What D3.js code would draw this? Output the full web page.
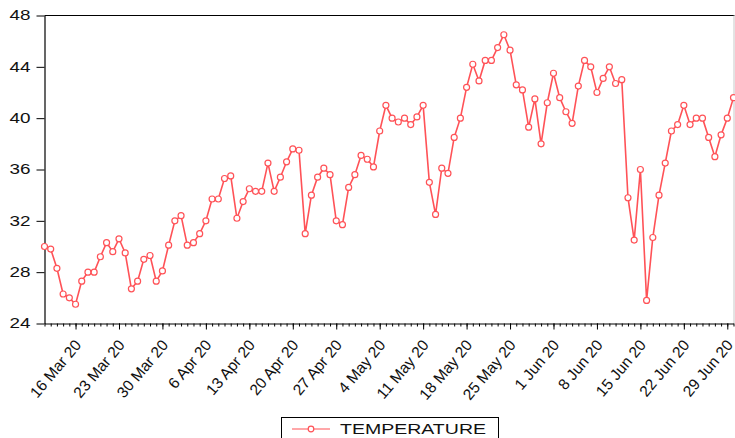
<!DOCTYPE html>
<html>
<head>
<meta charset="utf-8">
<script src="https://cdn.jsdelivr.net/npm/d3@7"></script>
<style>
  body { margin: 0; background: #fff; }
  svg { display: block; font-family: "Liberation Sans", Arial, sans-serif; }
</style>
</head>
<body>
<div id="chart"></div>
<script>
// daily series, 11 Mar 2020 .. 30 Jun 2020
const startDate = new Date(2020, 2, 11);
const endDate = new Date(2020, 5, 30);

const temperature = [
  30.0, 29.8, 28.3, 26.3, 26.0, 25.5, 27.3, 28.0, 28.0, 29.2,
  30.3, 29.6, 30.6, 29.5, 26.7, 27.3, 29.0, 29.3, 27.3, 28.1,
  30.1, 32.0, 32.4, 30.1, 30.3, 31.0, 32.0, 33.7, 33.7, 35.3,
  35.5, 32.2, 33.5, 34.5, 34.3, 34.3, 36.5, 34.3, 35.4, 36.6,
  37.6, 37.5, 31.0, 34.0, 35.4, 36.1, 35.6, 32.0, 31.7, 34.6,
  35.6, 37.1, 36.8, 36.2, 39.0, 41.0, 40.0, 39.7, 40.0, 39.5,
  40.1, 41.0, 35.0, 32.5, 36.1, 35.7, 38.5, 40.0, 42.4, 44.2,
  42.9, 44.5, 44.5, 45.5, 46.5, 45.3, 42.6, 42.2, 39.3, 41.5,
  38.0, 41.2, 43.5, 41.6, 40.5, 39.6, 42.5, 44.5, 44.0, 42.0,
  43.1, 44.0, 42.7, 43.0, 33.8, 30.5, 36.0, 25.8, 30.7, 34.0,
  36.5, 39.0, 39.5, 41.0, 39.5, 40.0, 40.0, 38.5, 37.0, 38.7,
  40.0, 41.6
];

const yTicks = [24, 28, 32, 36, 40, 44, 48];
const xTickDates = [
  new Date(2020, 2, 16), new Date(2020, 2, 23), new Date(2020, 2, 30),
  new Date(2020, 3, 6), new Date(2020, 3, 13), new Date(2020, 3, 20),
  new Date(2020, 3, 27), new Date(2020, 4, 4), new Date(2020, 4, 11),
  new Date(2020, 4, 18), new Date(2020, 4, 25), new Date(2020, 5, 1),
  new Date(2020, 5, 8), new Date(2020, 5, 15), new Date(2020, 5, 22),
  new Date(2020, 5, 29)
];
const seriesName = 'TEMPERATURE';

const W = 735, H = 438;
const plotLeft = 44.5, plotRight = 733.5, plotTop = 15.5, plotBottom = 323.5;
const red = '#ff5257';

const days = d3.timeDay.range(startDate, d3.timeDay.offset(endDate, 1));
const data = days.map((d, i) => ({ date: d, value: temperature[i] }));

const svg = d3.select('#chart').append('svg')
  .attr('width', W)
  .attr('height', H);

const x = d3.scaleTime()
  .domain([startDate, endDate])
  .range([plotLeft, plotRight]);

const y = d3.scaleLinear()
  .domain([24, 48])
  .range([plotBottom, plotTop]);

// frame: top black, right grey
svg.append('line')
  .attr('x1', plotLeft).attr('x2', plotRight + 1)
  .attr('y1', plotTop).attr('y2', plotTop)
  .attr('stroke', '#000').attr('stroke-width', 1);
svg.append('line')
  .attr('x1', plotRight + 0.5).attr('x2', plotRight + 0.5)
  .attr('y1', plotTop).attr('y2', plotBottom)
  .attr('stroke', '#c8c8c8').attr('stroke-width', 1);

// minor day ticks
svg.append('g')
  .attr('transform', `translate(0,${plotBottom})`)
  .call(d3.axisBottom(x).tickValues(days).tickSize(3).tickFormat(''))
  .call(g => g.select('.domain').remove())
  .selectAll('line').attr('stroke', '#000');

// X axis
const xAxis = svg.append('g')
  .attr('transform', `translate(0,${plotBottom})`)
  .call(d3.axisBottom(x).tickValues(xTickDates).tickSize(6).tickSizeOuter(0)
    .tickFormat(d3.timeFormat('%-d %b %y')));
xAxis.select('.domain').attr('stroke', '#000').attr('stroke-width', 1.2);
xAxis.selectAll('text')
  .attr('fill', '#111')
  .style('font-size', '15.5px')
  .attr('text-anchor', 'end')
  .attr('dy', null)
  .attr('y', 0)
  .attr('transform', 'translate(6,22) rotate(-50)');

// Y axis
const yAxis = svg.append('g')
  .attr('transform', `translate(${plotLeft},0)`)
  .call(d3.axisLeft(y).tickValues(yTicks).tickSize(8).tickSizeOuter(0).tickPadding(6));
yAxis.select('.domain').attr('stroke', '#000').attr('stroke-width', 1.2);
yAxis.selectAll('text')
  .attr('fill', '#111')
  .style('font-size', '14px')
  .attr('textLength', 21)
  .attr('lengthAdjust', 'spacingAndGlyphs');

const line = d3.line()
  .x(d => x(d.date))
  .y(d => y(d.value));

svg.append('path')
  .datum(data)
  .attr('fill', 'none')
  .attr('stroke', red)
  .attr('stroke-width', 1.6)
  .attr('d', line);

svg.append('g')
  .selectAll('circle')
  .data(data)
  .enter()
  .append('circle')
  .attr('cx', d => x(d.date))
  .attr('cy', d => y(d.value))
  .attr('r', 3)
  .attr('fill', '#fff')
  .attr('stroke', red)
  .attr('stroke-width', 1.2);

// legend
const legend = svg.append('g');
legend.append('rect')
  .attr('x', 281.5).attr('y', 417.5)
  .attr('width', 217).attr('height', 30)
  .attr('fill', '#fff')
  .attr('stroke', '#000');
legend.append('line')
  .attr('x1', 292).attr('x2', 330)
  .attr('y1', 429).attr('y2', 429)
  .attr('stroke', '#ff8a8c').attr('stroke-width', 1.6);
legend.append('circle')
  .attr('cx', 311).attr('cy', 429).attr('r', 2.8)
  .attr('fill', '#fff').attr('stroke', red).attr('stroke-width', 1.2);
legend.append('text')
  .attr('x', 340).attr('y', 433.5)
  .attr('textLength', 146)
  .attr('lengthAdjust', 'spacingAndGlyphs')
  .attr('fill', '#111')
  .style('font-size', '15.5px')
  .text(seriesName);
</script>
</body>
</html>
